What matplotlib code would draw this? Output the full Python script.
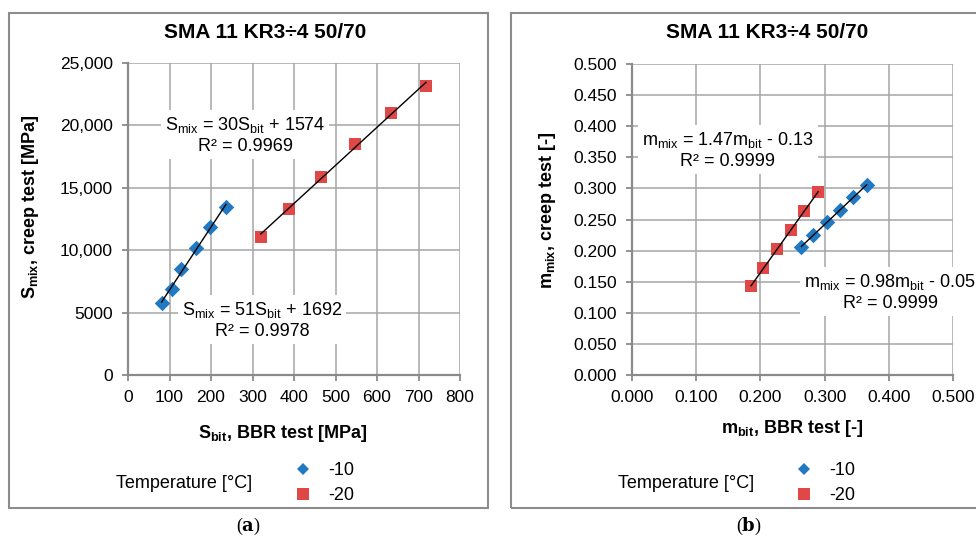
import matplotlib
matplotlib.use("Agg")
import matplotlib.pyplot as plt
from matplotlib.patches import Rectangle
from matplotlib.lines import Line2D
import numpy as np

plt.rcParams['font.family'] = ['Liberation Sans', 'DejaVu Sans']
plt.rcParams['mathtext.fontset'] = 'custom'
plt.rcParams['mathtext.rm'] = 'Liberation Sans'
plt.rcParams['mathtext.it'] = 'Liberation Sans:italic'
plt.rcParams['mathtext.bf'] = 'Liberation Sans:bold'

# --- data (a): stiffness ---
s_bit_10 = [81, 105, 128, 163, 198, 236]
s_mix_10 = [5740, 6860, 8470, 10150, 11860, 13460]
s_bit_20 = [320, 387, 464, 547, 634, 718]
s_mix_20 = [11080, 13300, 15890, 18510, 20970, 23160]

# --- data (b): m-value ---
m_bit_10 = [0.264, 0.2825, 0.303, 0.324, 0.3447, 0.3655]
m_mix_10 = [0.2063, 0.225, 0.2455, 0.265, 0.2857, 0.3055]
m_bit_20 = [0.1854, 0.2045, 0.2263, 0.247, 0.268, 0.290]
m_mix_20 = [0.143, 0.1715, 0.2021, 0.233, 0.264, 0.2937]

s_xticks = [0, 100, 200, 300, 400, 500, 600, 700, 800]
s_yticks = [0, 5000, 10000, 15000, 20000, 25000]
s_yticklabels = ['0', '5000', '10,000', '15,000', '20,000', '25,000']
m_xticks = [0.0, 0.1, 0.2, 0.3, 0.4, 0.5]
m_yticks = [0.0, 0.05, 0.1, 0.15, 0.2, 0.25, 0.3, 0.35, 0.4, 0.45, 0.5]

title = "SMA 11 KR3÷4 50/70"
blue = '#2179c1'
red = '#e04848'
grid_c = '#a5a5a5'
spine_c = '#8a8a8a'

fig = plt.figure(figsize=(9.76, 5.36), dpi=100)
W, H = 976, 536


def px_axes(x0, y0, x1, y1):
    return fig.add_axes([x0 / W, 1 - y1 / H, (x1 - x0) / W, (y1 - y0) / H])


def panel_box(x0, y0, x1, y1):
    fig.patches.append(Rectangle((x0 / W, 1 - y1 / H), (x1 - x0) / W, (y1 - y0) / H,
                                 transform=fig.transFigure, fill=False,
                                 edgecolor='#8c8c8c', linewidth=1.5))


def style_axes(ax):
    ax.grid(True, color=grid_c, linewidth=1.1)
    ax.set_axisbelow(True)
    for s in ['top', 'right']:
        ax.spines[s].set_visible(False)
    for s in ['left', 'bottom']:
        ax.spines[s].set_color(spine_c)
        ax.spines[s].set_linewidth(1.6)
    ax.tick_params(direction='out', length=4, width=1.3, color=spine_c,
                   labelsize=12.5, pad=7)


def trend(ax, x, y):
    k, b = np.polyfit(x, y, 1)
    xs = np.array([min(x), max(x)])
    ax.plot(xs, k * xs + b, color='black', linewidth=1.0, zorder=4)


eq_box = dict(facecolor='white', edgecolor='none', pad=3)

# ---------------- (a) ----------------
panel_box(9, 13, 488, 508)
ax1 = px_axes(128, 63, 460, 375)
style_axes(ax1)
ax1.scatter(s_bit_10, s_mix_10, marker='D', s=62, color=blue, zorder=3, linewidths=0)
ax1.scatter(s_bit_20, s_mix_20, marker='s', s=80, color=red, zorder=3, linewidths=0)
trend(ax1, s_bit_10, s_mix_10)
trend(ax1, s_bit_20, s_mix_20)
ax1.set_xlim(0, 800)
ax1.set_ylim(0, 25000)
ax1.set_xticks(s_xticks)
ax1.set_yticks(s_yticks)
ax1.set_yticklabels(s_yticklabels)
ax1.text(282, 19250, "S$_{\\mathrm{mix}}$ = 30S$_{\\mathrm{bit}}$ + 1574\nR² = 0.9969",
         ha='center', va='center', fontsize=13, multialignment='center',
         bbox=eq_box, zorder=5)
ax1.text(323, 4400, "S$_{\\mathrm{mix}}$ = 51S$_{\\mathrm{bit}}$ + 1692\nR² = 0.9978",
         ha='center', va='center', fontsize=13, multialignment='center',
         bbox=eq_box, zorder=5)
ax1.set_xlabel("S$_{\\mathbf{bit}}$, BBR test [MPa]", fontsize=13, fontweight='bold')
ax1.set_ylabel("S$_{\\mathbf{mix}}$, creep test [MPa]", fontsize=13, fontweight='bold')
ax1.xaxis.set_label_coords(0.467, -0.154)
ax1.yaxis.set_label_coords(-0.262, 0.54)
fig.text(265 / W, 1 - 32 / H, title, ha='center', va='center', fontsize=15, fontweight='bold')

# ---------------- (b) ----------------
panel_box(511, 13, 990, 508)
ax2 = px_axes(632, 64, 953, 375)
style_axes(ax2)
ax2.scatter(m_bit_10, m_mix_10, marker='D', s=62, color=blue, zorder=3, linewidths=0)
ax2.scatter(m_bit_20, m_mix_20, marker='s', s=80, color=red, zorder=3, linewidths=0)
trend(ax2, m_bit_10, m_mix_10)
trend(ax2, m_bit_20, m_mix_20)
ax2.set_xlim(0, 0.5)
ax2.set_ylim(0, 0.5)
ax2.set_xticks(m_xticks)
ax2.set_yticks(m_yticks)
ax2.set_xticklabels([f"{v:.3f}" for v in m_xticks])
ax2.set_yticklabels([f"{v:.3f}" for v in m_yticks])
ax2.text(0.1495, 0.3617, "m$_{\\mathrm{mix}}$ = 1.47m$_{\\mathrm{bit}}$ - 0.13\nR² = 0.9999",
         ha='center', va='center', fontsize=13, multialignment='center',
         bbox=eq_box, zorder=5)
ax2.text(0.402, 0.133, "m$_{\\mathrm{mix}}$ = 0.98m$_{\\mathrm{bit}}$ - 0.05\nR² = 0.9999",
         ha='center', va='center', fontsize=13, multialignment='center',
         bbox=eq_box, zorder=5, clip_on=False)
ax2.set_xlabel("m$_{\\mathbf{bit}}$, BBR test [-]", fontsize=13, fontweight='bold')
ax2.set_ylabel("m$_{\\mathbf{mix}}$, creep test [-]", fontsize=13, fontweight='bold')
ax2.xaxis.set_label_coords(0.5, -0.138)
ax2.yaxis.set_label_coords(-0.232, 0.53)
fig.text(767 / W, 1 - 32 / H, title, ha='center', va='center', fontsize=15, fontweight='bold')

# ---------------- legends ----------------
handles = [Line2D([], [], marker='D', linestyle='none', color=blue, markersize=6.5, markeredgewidth=0),
           Line2D([], [], marker='s', linestyle='none', color=red, markersize=8, markeredgewidth=0)]
labels = ['-10', '-20']
for tx, lx in [(184, 294), (686, 795)]:
    fig.text(tx / W, 1 - 483 / H, "Temperature [°C]", ha='center', va='center', fontsize=13)
    fig.legend(handles, labels, loc='center left', bbox_to_anchor=(lx / W, 1 - 483 / H),
               frameon=False, fontsize=13, handlelength=1.0, handletextpad=0.9,
               labelspacing=0.45, borderpad=0, borderaxespad=0)

# ---------------- captions ----------------
for cx, letter in [(248, 'a'), (749, 'b')]:
    fig.text(cx / W, 1 - 526 / H, "(" + r"$\mathbf{" + letter + "}$" + ")",
             ha='center', va='center', fontsize=13, family='Liberation Serif',
             math_fontfamily='dejavuserif')

fig.savefig("out.png", dpi=100, facecolor='white')
